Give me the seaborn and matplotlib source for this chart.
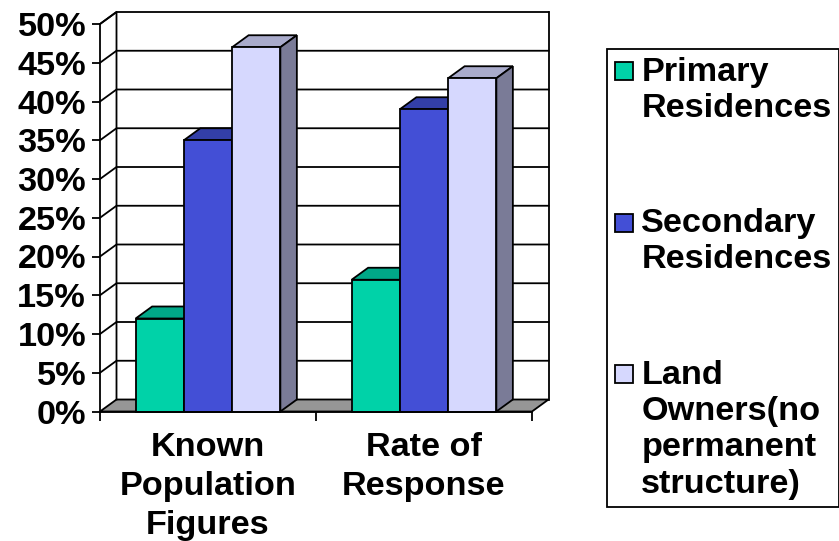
import pandas as pd
import matplotlib
matplotlib.use("Agg")
import matplotlib.pyplot as plt
from matplotlib.legend_handler import HandlerPatch
from matplotlib.patches import Patch, Polygon, Rectangle
import seaborn as sns

categories = ["Known\nPopulation\nFigures", "Rate of\nResponse"]
series_names = ["Primary Residences", "Secondary Residences", "Land Owners"]
legend_labels = ["Primary\nResidences", "Secondary\nResidences", "Land\nOwners(no\npermanent\nstructure)"]
primary = [12, 17]
secondary = [35, 39]
land_owners = [47, 43]
y_ticks = list(range(0, 55, 5))

front_colors = ["#00D2A8", "#434FD6", "#D6D8FE"]
top_colors = ["#00A888", "#333FA8", "#A9ABCB"]
side_colors = ["#00806A", "#28307F", "#7A7B97"]
floor_color = "#969696"
LW = 1.3
DX = 16.5 / 216  # depth of the fake 3d box, in data units
DY = 12 / 7.75

df = pd.DataFrame({
    "category": categories * 3,
    "series": [s for s in series_names for _ in categories],
    "value": primary + secondary + land_owners,
})

plt.rcParams["font.family"] = ["Liberation Sans", "DejaVu Sans"]
plt.rcParams["font.weight"] = "bold"
plt.rcParams["font.size"] = 24.7

fig = plt.figure(figsize=(8.39, 5.41), dpi=100)
ax = fig.add_axes([100 / 839, (541 - 411.5) / 541, 432 / 839, 387.5 / 541])

sns.barplot(data=df, x="category", y="value", hue="series", palette=front_colors,
            width=0.67, gap=0, saturation=1, edgecolor="black", linewidth=LW,
            legend=False, ax=ax, zorder=3)

ax.set_xlim(-0.5, 1.5)
ax.set_ylim(0, 50)
ax.set_xlabel("")
ax.set_ylabel("")

# floor and back walls
x0, x1 = -0.5, 1.5
ax.add_patch(Polygon([(x0, 0), (x1, 0), (x1 + DX, DY), (x0 + DX, DY)], closed=True,
                     facecolor=floor_color, edgecolor="black", lw=LW, clip_on=False, zorder=1))
ax.plot([x0, x0 + DX, x0 + DX], [50, 50 + DY, DY], color="black", lw=LW, clip_on=False, zorder=1.5)
ax.plot([x1 + DX, x1 + DX], [DY, 50 + DY], color="black", lw=LW, clip_on=False, zorder=1.5)
for t in y_ticks:
    if t > 0:
        ax.plot([x0, x0 + DX, x1 + DX], [t, t + DY, t + DY], color="black", lw=LW,
                clip_on=False, zorder=1.5)

# top and side faces of each bar
for i, container in enumerate(ax.containers):
    for bar in container:
        bx, bw, bh = bar.get_x(), bar.get_width(), bar.get_height()
        bar.set_zorder(3 + i + 0.5)
        bar.set_clip_on(False)
        ax.add_patch(Polygon([(bx, bh), (bx + bw, bh), (bx + bw + DX, bh + DY), (bx + DX, bh + DY)],
                             closed=True, facecolor=top_colors[i], edgecolor="black", lw=LW,
                             clip_on=False, zorder=3 + i))
        ax.add_patch(Polygon([(bx + bw, 0), (bx + bw + DX, DY), (bx + bw + DX, bh + DY), (bx + bw, bh)],
                             closed=True, facecolor=side_colors[i], edgecolor="black", lw=LW,
                             clip_on=False, zorder=3 + i))

sns.despine(ax=ax)
for s in ["left", "bottom"]:
    ax.spines[s].set_linewidth(LW)
    ax.spines[s].set_zorder(8)

ax.set_yticks(y_ticks)
ax.set_yticklabels([f"{t}%" for t in y_ticks])
ax.tick_params(axis="y", length=6, width=LW, pad=4)
ax.set_xticks([0, 1])
ax.set_xticklabels(categories, linespacing=1.33)
ax.set_xticks([-0.5, 0.5, 1.5], minor=True)
ax.tick_params(axis="x", which="major", length=0, pad=15)
ax.tick_params(axis="x", which="minor", length=6.5, width=LW)


class RaisedSquare(HandlerPatch):
    # legend centres the key on a multiline label, the chart has it on the first line
    def create_artists(self, legend, orig_handle, xdescent, ydescent, width, height, fontsize, trans):
        lift = orig_handle.n_extra_lines * 18.3 * 0.72 + 4
        r = Rectangle((xdescent, ydescent + lift), 13, 13, facecolor=orig_handle.get_facecolor(),
                      edgecolor="black", lw=LW, transform=trans)
        return [r]


handles = []
for c, lab in zip(front_colors, legend_labels):
    h = Patch(facecolor=c)
    h.n_extra_lines = lab.count("\n")
    handles.append(h)

leg = fig.legend(handles, legend_labels, loc="upper left",
                 bbox_to_anchor=(607 / 839, 1 - 49 / 541), bbox_transform=fig.transFigure,
                 fancybox=False, framealpha=1, edgecolor="black", borderaxespad=0,
                 handler_map={Patch: RaisedSquare()}, handlelength=0.55, handleheight=0.55,
                 handletextpad=0.23, labelspacing=2.46, borderpad=0.22)
leg.get_frame().set_linewidth(LW)
for t in leg.get_texts():
    t.set_linespacing(1.22)

fig.savefig("out.png", dpi=100)
